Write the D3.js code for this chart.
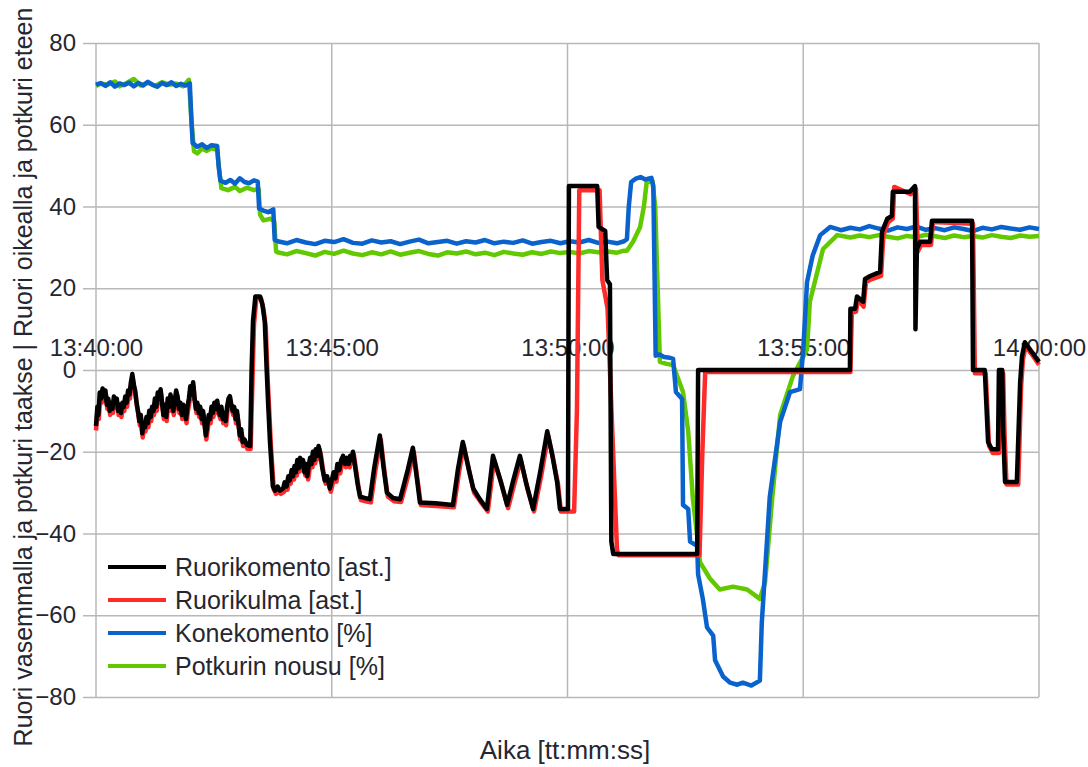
<!DOCTYPE html>
<html>
<head>
<meta charset="utf-8">
<script src="https://cdnjs.cloudflare.com/ajax/libs/d3/7.8.5/d3.min.js"></script>
<style>
  body { margin: 0; background: #fff; }
  svg { display: block; }
  text { font-family: "Liberation Sans", Arial, sans-serif; fill: #262630; }
</style>
</head>
<body>
<script>
(function (d3) {
  "use strict";

  /***** Data: [minutes after 13:40:00, value] *****/
  var yTicks = [-80, -60, -40, -20, 0, 20, 40, 60, 80];
  var xTickMinutes = [0, 5, 10, 15, 20];
  var seriesNames = ["Ruorikomento [ast.]", "Ruorikulma [ast.]", "Konekomento [%]", "Potkurin nousu [%]"];

  var ruorikomento = [
    [0, -13.7], [0.03, -9], [0.05, -11], [0.08, -5.5], [0.11, -7], [0.14, -4.5], [0.17, -6.5], [0.2, -5],
    [0.23, -8.5], [0.26, -7], [0.29, -10], [0.32, -8], [0.35, -9.5], [0.38, -6.5], [0.41, -8], [0.44, -7],
    [0.47, -10], [0.5, -8.5], [0.53, -10.5], [0.56, -8], [0.59, -9], [0.62, -6.5], [0.65, -8], [0.68, -5],
    [0.71, -6], [0.74, -3], [0.77, -1], [0.8, -3.5], [0.83, -5], [0.86, -8], [0.89, -10], [0.92, -12.5],
    [0.95, -11], [0.98, -15.5], [1.01, -13], [1.04, -14], [1.07, -11.5], [1.1, -13], [1.13, -10],
    [1.16, -11.5], [1.19, -9], [1.22, -10], [1.25, -7], [1.28, -9], [1.31, -5.5], [1.34, -7], [1.37, -4.7],
    [1.4, -8], [1.43, -11], [1.46, -8.5], [1.49, -11.5], [1.52, -7], [1.55, -9], [1.58, -6], [1.61, -8],
    [1.64, -10], [1.67, -7.5], [1.7, -5], [1.73, -6.5], [1.76, -9.5], [1.79, -8], [1.82, -11], [1.85, -8.5],
    [1.88, -10], [1.91, -12], [1.94, -9], [1.97, -7], [2.0, -4], [2.03, -6], [2.06, -3], [2.09, -7],
    [2.12, -9.5], [2.15, -8], [2.18, -10.5], [2.21, -9], [2.24, -12], [2.27, -10], [2.3, -13], [2.33, -16],
    [2.36, -13.5], [2.39, -11], [2.42, -12], [2.45, -9], [2.48, -10.5], [2.51, -8], [2.54, -9.5],
    [2.57, -7.5], [2.6, -10], [2.63, -11], [2.66, -9], [2.69, -12], [2.72, -10.5], [2.75, -12.5],
    [2.78, -9], [2.81, -7], [2.84, -6.4], [2.87, -8.5], [2.9, -10], [2.93, -9], [2.96, -12], [2.99, -10],
    [3.02, -13], [3.05, -16], [3.08, -14.5], [3.11, -17.6], [3.15, -17], [3.2, -18.3], [3.27, -18.6],
    [3.3, 0], [3.33, 12], [3.38, 18], [3.48, 18], [3.53, 16], [3.58, 11.8], [3.62, 0], [3.65, -8],
    [3.69, -17.6], [3.75, -28.4], [3.8, -29.5], [3.85, -28.5], [3.9, -29.5], [3.97, -29], [4.0, -27.5],
    [4.04, -28.5], [4.08, -26], [4.11, -27], [4.15, -24.5], [4.18, -26], [4.21, -23.5], [4.24, -25],
    [4.27, -22], [4.3, -24], [4.33, -21.5], [4.36, -23.5], [4.39, -22], [4.42, -25], [4.45, -23],
    [4.48, -26], [4.51, -23.5], [4.54, -21.5], [4.57, -23], [4.6, -20], [4.63, -22], [4.66, -19.4],
    [4.69, -21], [4.72, -18.6], [4.75, -20], [4.8, -24], [4.85, -27], [4.9, -26], [4.96, -29], [5.0, -27],
    [5.04, -25], [5.08, -26.5], [5.12, -23], [5.16, -24.5], [5.2, -22], [5.24, -21], [5.28, -23],
    [5.32, -21.5], [5.36, -23], [5.39, -21], [5.42, -22], [5.45, -20], [5.5, -24], [5.55, -28], [5.6, -31],
    [5.7, -31.3], [5.81, -31.6], [5.9, -24], [6.02, -16], [6.1, -24], [6.17, -30], [6.3, -31.3],
    [6.45, -31.6], [6.6, -25], [6.72, -19], [6.8, -26], [6.87, -32.4], [7.2, -32.6], [7.57, -33],
    [7.68, -24], [7.78, -17.6], [7.9, -24], [8.0, -29], [8.14, -31.6], [8.29, -34], [8.36, -27],
    [8.42, -21], [8.5, -24], [8.57, -26.7], [8.65, -30], [8.72, -33], [8.85, -27], [8.99, -21],
    [9.13, -28], [9.27, -34], [9.42, -25], [9.57, -15], [9.68, -21], [9.78, -27.4], [9.84, -34],
    [10.01, -34], [10.03, 45], [10.63, 45], [10.66, 35], [10.8, 34], [10.84, 22], [10.9, 21], [10.93, -42],
    [10.97, -45], [12.75, -45], [12.77, 0], [15.99, 0], [16.0, 15], [16.1, 15], [16.14, 18],
    [16.27, 16.7], [16.31, 22.3], [16.42, 23], [16.63, 24], [16.67, 33.8], [16.78, 37], [16.88, 37.7],
    [16.9, 43.6], [17.26, 43.6], [17.37, 45], [17.38, 10], [17.41, 29.6], [17.48, 31.4], [17.69, 31.4],
    [17.73, 36.5], [18.58, 36.5], [18.6, 0], [18.85, 0], [18.92, -17.6], [19.0, -19.4], [19.13, -19.4],
    [19.15, 0], [19.22, 0], [19.24, -15], [19.28, -27.4], [19.53, -27.4], [19.6, -3], [19.64, 3.4],
    [19.7, 6.8], [20.0, 2]
  ];

  var ruorikulma = [
    [0, -14.8], [0.03, -10], [0.06, -12], [0.09, -6.5], [0.12, -8], [0.15, -5.5], [0.18, -7.5], [0.21, -6],
    [0.24, -9.5], [0.27, -8], [0.3, -11], [0.33, -9], [0.36, -10.5], [0.39, -7.5], [0.42, -9], [0.45, -8],
    [0.48, -11], [0.51, -9.5], [0.54, -11.5], [0.57, -9], [0.6, -10], [0.63, -7.5], [0.66, -9], [0.69, -6],
    [0.72, -7], [0.75, -4], [0.78, -2], [0.81, -4.5], [0.84, -6], [0.87, -9], [0.9, -11], [0.93, -13.5],
    [0.96, -12], [0.99, -16.5], [1.02, -14], [1.05, -15], [1.08, -12.5], [1.11, -14], [1.14, -11],
    [1.17, -12.5], [1.2, -10], [1.23, -11], [1.26, -8], [1.29, -10], [1.32, -6.5], [1.35, -8], [1.38, -5.7],
    [1.41, -9], [1.44, -12], [1.47, -9.5], [1.5, -12.5], [1.53, -8], [1.56, -10], [1.59, -7], [1.62, -9],
    [1.65, -11], [1.68, -8.5], [1.71, -6], [1.74, -7.5], [1.77, -10.5], [1.8, -9], [1.83, -12], [1.86, -9.5],
    [1.89, -11], [1.92, -13], [1.95, -10], [1.98, -8], [2.01, -5], [2.04, -7], [2.07, -4], [2.1, -8],
    [2.13, -10.5], [2.16, -9], [2.19, -11.5], [2.22, -10], [2.25, -13], [2.28, -11], [2.31, -14], [2.34, -17],
    [2.37, -14.5], [2.4, -12], [2.43, -13], [2.46, -10], [2.49, -11.5], [2.52, -9], [2.55, -10.5],
    [2.58, -8.5], [2.61, -11], [2.64, -12], [2.67, -10], [2.7, -13], [2.73, -11.5], [2.76, -13.5],
    [2.79, -10], [2.82, -8], [2.85, -7.4], [2.88, -9.5], [2.91, -11], [2.94, -10], [2.97, -13], [3.0, -11],
    [3.03, -14], [3.06, -17], [3.09, -15.5], [3.12, -18.6], [3.16, -18], [3.21, -19.3], [3.28, -19.3],
    [3.32, -2], [3.35, 11], [3.4, 17.5], [3.5, 17.5], [3.55, 15], [3.6, 10.5], [3.64, -2], [3.67, -9],
    [3.71, -18.6], [3.77, -29.2], [3.82, -30.3], [3.87, -29.3], [3.92, -30.3], [3.99, -29.8], [4.02, -28.3],
    [4.06, -29.3], [4.1, -26.8], [4.13, -27.8], [4.17, -25.3], [4.2, -26.8], [4.23, -24.3], [4.26, -25.8],
    [4.29, -22.8], [4.32, -24.8], [4.35, -22.3], [4.38, -24.3], [4.41, -22.8], [4.44, -25.8], [4.47, -23.8],
    [4.5, -26.8], [4.53, -24.3], [4.56, -22.3], [4.59, -23.8], [4.62, -20.8], [4.65, -22.8], [4.68, -20.2],
    [4.71, -21.8], [4.74, -19.4], [4.77, -20.8], [4.82, -24.8], [4.87, -27.8], [4.92, -26.8], [4.98, -29.8],
    [5.02, -27.8], [5.06, -25.8], [5.1, -27.3], [5.14, -23.8], [5.18, -25.3], [5.22, -22.8], [5.26, -21.8],
    [5.3, -23.8], [5.34, -22.3], [5.38, -23.8], [5.41, -21.8], [5.44, -22.8], [5.47, -20.8], [5.52, -24.8],
    [5.57, -28.8], [5.62, -31.8], [5.72, -32.1], [5.83, -32.4], [5.92, -25], [6.04, -17], [6.12, -25],
    [6.19, -31], [6.32, -32.1], [6.47, -32.3], [6.62, -26], [6.74, -20], [6.82, -27], [6.89, -33],
    [7.22, -33.3], [7.59, -33.6], [7.7, -25], [7.8, -18.5], [7.92, -25], [8.02, -30], [8.16, -32.3],
    [8.31, -34.6], [8.38, -28], [8.44, -22], [8.52, -25], [8.59, -27.5], [8.67, -31], [8.74, -33.8],
    [8.87, -28], [9.01, -22], [9.15, -29], [9.29, -34.6], [9.44, -26], [9.59, -16], [9.7, -22], [9.8, -28],
    [9.86, -34.6], [10.14, -34.6], [10.2, -10], [10.25, 44], [10.68, 44], [10.74, 22], [10.85, 15],
    [10.95, -15], [11.05, -44], [11.08, -45.3], [12.8, -45.3], [12.86, -20], [12.92, -0.5], [16.0, -0.5],
    [16.03, 14], [16.12, 14.3], [16.16, 17.3], [16.28, 15.5], [16.33, 21.5], [16.44, 22.2], [16.65, 23],
    [16.7, 33], [16.8, 36.2], [16.9, 37], [16.93, 44.8], [17.28, 43], [17.39, 44.3], [17.43, 29],
    [17.5, 30.6], [17.71, 30.6], [17.75, 36.2], [18.6, 35.8], [18.64, -0.8], [18.87, -0.8], [18.94, -18.5],
    [19.02, -20.3], [19.15, -20.3], [19.17, -0.8], [19.24, -0.8], [19.27, -16], [19.31, -28], [19.56, -28],
    [19.62, -4], [19.66, 2.6], [19.72, 6], [20, 1.3]
  ];

  var konekomento = [
    [0, 69.8], [0.1, 70.2], [0.2, 69.5], [0.3, 70.4], [0.4, 69.3], [0.5, 70.1], [0.6, 69.7], [0.7, 70.3],
    [0.8, 69.4], [0.9, 70.2], [1.0, 69.6], [1.1, 70.5], [1.2, 69.8], [1.3, 69.3], [1.4, 70.2], [1.5, 69.7],
    [1.6, 70.4], [1.7, 69.5], [1.8, 70.0], [1.9, 69.6], [1.99, 70.1], [2.02, 62], [2.05, 55.5],
    [2.15, 54.6], [2.25, 55.2], [2.35, 54.3], [2.45, 55.0], [2.57, 54.8], [2.6, 50], [2.64, 46.3],
    [2.75, 45.8], [2.85, 46.5], [2.95, 45.6], [3.05, 46.9], [3.15, 46.0], [3.25, 45.7], [3.35, 46.4],
    [3.43, 46.1], [3.46, 39.5], [3.55, 39.0], [3.65, 38.6], [3.76, 39.3], [3.79, 31.8],
    [3.85, 31.5], [4.05, 31.0], [4.25, 31.8], [4.45, 31.2], [4.65, 30.8], [4.85, 31.6], [5.05, 31.3],
    [5.25, 32.0], [5.45, 31.1], [5.65, 30.9], [5.85, 31.7], [6.05, 31.2], [6.25, 31.5], [6.45, 30.8],
    [6.65, 31.4], [6.85, 31.9], [7.05, 31.0], [7.25, 31.3], [7.45, 31.6], [7.65, 30.9], [7.85, 31.5],
    [8.05, 31.2], [8.25, 31.8], [8.45, 31.0], [8.65, 31.4], [8.85, 31.1], [9.05, 31.7], [9.25, 30.9],
    [9.45, 31.3], [9.65, 31.6], [9.85, 31.0], [10.05, 31.5], [10.25, 31.2], [10.45, 31.8], [10.65, 31.1],
    [10.85, 31.4], [11.05, 31.0], [11.2, 31.5], [11.26, 32], [11.3, 40], [11.35, 46], [11.45, 46.8],
    [11.55, 47.2], [11.65, 46.6], [11.78, 47], [11.82, 45], [11.87, 3.5], [11.95, 3.8], [12.05, 3.2],
    [12.17, 3.0], [12.24, 2.7], [12.3, -5.4], [12.43, -7.1], [12.45, -33], [12.56, -34], [12.6, -42],
    [12.75, -43], [12.77, -50], [12.87, -56], [12.96, -63], [13.09, -65], [13.13, -71], [13.3, -75],
    [13.45, -76.5], [13.6, -77], [13.72, -76.5], [13.9, -77.2], [14.08, -76], [14.12, -62], [14.29, -31],
    [14.51, -12.7], [14.72, -5.4], [14.93, -4.7], [15.0, 5], [15.08, 21.5], [15.2, 28], [15.36, 33],
    [15.57, 35], [15.8, 34.2], [16.0, 34.8], [16.2, 34.4], [16.4, 35.2], [16.6, 34.6], [16.8, 34.1],
    [17.0, 34.9], [17.2, 34.5], [17.4, 35.1], [17.6, 34.3], [17.8, 34.7], [18.0, 34.2], [18.2, 34.9],
    [18.4, 34.5], [18.6, 34.0], [18.8, 34.8], [19.0, 34.4], [19.2, 35.0], [19.4, 34.6], [19.6, 34.3],
    [19.8, 34.9], [20.0, 34.5]
  ];

  var potkurinNousu = [
    [0, 69.5], [0.1, 70.1], [0.25, 69.8], [0.4, 70.6], [0.5, 69.4], [0.65, 70.2], [0.8, 71.2], [0.95, 69.6],
    [1.1, 70.3], [1.25, 69.5], [1.4, 70.4], [1.55, 69.8], [1.7, 70.1], [1.85, 69.4], [1.97, 71.0],
    [2.03, 60], [2.08, 53.5], [2.15, 53.0], [2.25, 54.2], [2.35, 53.6], [2.45, 54.3], [2.57, 53.8],
    [2.62, 48], [2.66, 44.5], [2.8, 44.0], [2.95, 44.8], [3.05, 43.8], [3.2, 44.6], [3.35, 44.0],
    [3.45, 44.3], [3.48, 38], [3.55, 36.6], [3.7, 37.0], [3.78, 36.4], [3.82, 29],
    [3.85, 28.8], [4.05, 28.3], [4.25, 29.1], [4.45, 28.6], [4.65, 28.0], [4.85, 28.9], [5.05, 28.4],
    [5.25, 29.2], [5.45, 28.5], [5.65, 28.1], [5.85, 28.8], [6.05, 28.3], [6.25, 29.0], [6.45, 28.2],
    [6.65, 28.7], [6.85, 29.1], [7.05, 28.4], [7.25, 28.0], [7.45, 28.8], [7.65, 28.5], [7.85, 29.0],
    [8.05, 28.3], [8.25, 28.7], [8.45, 28.1], [8.65, 28.9], [8.85, 28.5], [9.05, 28.2], [9.25, 28.8],
    [9.45, 28.4], [9.65, 29.0], [9.85, 28.6], [10.05, 28.9], [10.25, 28.5], [10.45, 29.1], [10.65, 28.8],
    [10.85, 29.0], [11.05, 28.7], [11.2, 29.2], [11.26, 29.2], [11.39, 31.4], [11.54, 35], [11.62, 40],
    [11.68, 46], [11.8, 46.3], [11.86, 40], [11.96, 2], [12.1, 1.5], [12.24, 1.2], [12.45, -5.4],
    [12.56, -15], [12.66, -31.6], [12.75, -40.6], [12.81, -47], [13.02, -51], [13.23, -53.7], [13.51, -53],
    [13.81, -53.7], [14.08, -56], [14.19, -52], [14.34, -31.6], [14.51, -11], [14.78, -1.5], [15.08, 5],
    [15.14, 16.7], [15.42, 29.6], [15.72, 33], [16.0, 32.4], [16.2, 32.9], [16.4, 32.5], [16.6, 33.0],
    [16.8, 32.6], [17.0, 32.2], [17.2, 32.8], [17.4, 32.5], [17.6, 33.1], [17.8, 32.7], [18.0, 32.3],
    [18.2, 32.9], [18.4, 32.5], [18.6, 32.8], [18.8, 32.4], [19.0, 33.0], [19.2, 32.6], [19.4, 32.3],
    [19.6, 32.9], [19.8, 32.6], [20.0, 32.8]
  ];

  /***** Configuration *****/
  var svgWidth = 1088;
  var svgHeight = 767;
  var plot = { left: 96, right: 1039, top: 43, bottom: 697 };
  var seriesColors = ["#000000", "#ff2a2a", "#0a62cc", "#62c800"];
  var startTime = new Date(2000, 0, 1, 13, 40, 0);
  function toDate(m) { return new Date(+startTime + m * 60000); }

  /***** Scales *****/
  var x = d3.scaleTime().domain([toDate(0), toDate(20)]).range([plot.left, plot.right]);
  var y = d3.scaleLinear().domain([-80, 80]).range([plot.bottom, plot.top]);

  var svg = d3.select("body").append("svg")
    .attr("width", svgWidth)
    .attr("height", svgHeight);

  svg.append("rect").attr("width", svgWidth).attr("height", svgHeight).attr("fill", "#fff");

  /***** Grid and y axis *****/
  var yAxis = d3.axisLeft(y)
    .tickValues(yTicks)
    .tickSizeInner(-(plot.right - plot.left))
    .tickSizeOuter(0)
    .tickPadding(20);

  var yAxisGroup = svg.append("g")
    .attr("transform", "translate(" + plot.left + ",0)")
    .call(yAxis);
  yAxisGroup.select(".domain").remove();
  yAxisGroup.selectAll(".tick line")
    .attr("x1", -13)
    .attr("stroke", "#b8b8b8")
    .attr("stroke-width", 1.5);
  yAxisGroup.selectAll(".tick text")
    .attr("font-size", 24)
    .attr("fill", "#262630")
    .style("font-family", "'Liberation Sans', Arial, sans-serif");

  svg.append("g").selectAll("line")
    .data(xTickMinutes)
    .enter().append("line")
    .attr("x1", function (d) { return x(toDate(d)); })
    .attr("x2", function (d) { return x(toDate(d)); })
    .attr("y1", plot.top)
    .attr("y2", plot.bottom)
    .attr("stroke", "#b8b8b8")
    .attr("stroke-width", 1.5);

  /***** x axis labels sit on the zero line *****/
  var xAxis = d3.axisTop(x)
    .tickValues(xTickMinutes.map(toDate))
    .tickFormat(d3.timeFormat("%H:%M:%S"))
    .tickSize(0)
    .tickPadding(14);

  var xAxisGroup = svg.append("g")
    .attr("transform", "translate(0," + y(0) + ")")
    .call(xAxis);
  xAxisGroup.select(".domain").remove();
  xAxisGroup.selectAll(".tick text")
    .attr("font-size", 24)
    .attr("fill", "#262630")
    .style("font-family", "'Liberation Sans', Arial, sans-serif");

  /***** Series lines *****/
  var line = d3.line()
    .x(function (d) { return x(toDate(d[0])); })
    .y(function (d) { return y(d[1]); });

  var drawOrder = [
    { data: potkurinNousu, color: seriesColors[3] },
    { data: konekomento, color: seriesColors[2] },
    { data: ruorikulma, color: seriesColors[1] },
    { data: ruorikomento, color: seriesColors[0] }
  ];

  svg.append("g").selectAll("path")
    .data(drawOrder)
    .enter().append("path")
    .attr("d", function (d) { return line(d.data); })
    .attr("fill", "none")
    .attr("stroke", function (d) { return d.color; })
    .attr("stroke-width", 4.5)
    .attr("stroke-linejoin", "round");

  /***** Legend *****/
  var legend = svg.append("g").attr("transform", "translate(108,567)");
  var legendItem = legend.selectAll("g")
    .data(seriesNames)
    .enter().append("g")
    .attr("transform", function (d, i) { return "translate(0," + (i * 33) + ")"; });
  legendItem.append("line")
    .attr("x1", 0).attr("x2", 58)
    .attr("stroke", function (d, i) { return seriesColors[i]; })
    .attr("stroke-width", 4);
  legendItem.append("text")
    .attr("x", 67)
    .attr("dy", "0.35em")
    .attr("font-size", 25)
    .text(function (d) { return d; });

  /***** Axis titles *****/
  svg.append("text")
    .attr("transform", "translate(32,377) rotate(-90)")
    .attr("text-anchor", "middle")
    .attr("font-size", 25)
    .text("Ruori vasemmalla ja potkuri taakse | Ruori oikealla ja potkuri eteen");

  svg.append("text")
    .attr("x", 565)
    .attr("y", 759)
    .attr("text-anchor", "middle")
    .attr("font-size", 26)
    .text("Aika [tt:mm:ss]");

})(d3);
</script>
</body>
</html>
